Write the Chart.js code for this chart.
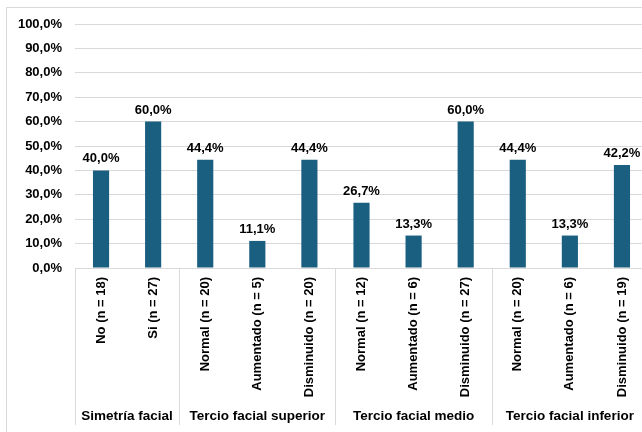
<!DOCTYPE html>
<html>
<head>
<meta charset="utf-8">
<script src="https://cdn.jsdelivr.net/npm/chart.js@4/dist/chart.umd.min.js"></script>
<style>
html,body{margin:0;padding:0;overflow:hidden;background:#fff;width:642px;height:432px;}
#frame{position:absolute;left:6px;top:7px;width:700px;height:440px;border-top:1px solid #d9d9d9;border-left:1px solid #d9d9d9;}
#c{position:absolute;left:0;top:0;}
</style>
</head>
<body>
<div id="frame"></div>
<canvas id="c" width="700" height="432"></canvas>
<script>
const categories = ["No (n = 18)","Si (n = 27)","Normal (n = 20)","Aumentado (n = 5)","Disminuido (n = 20)","Normal (n = 12)","Aumentado (n = 6)","Disminuido (n = 27)","Normal (n = 20)","Aumentado (n = 6)","Disminuido (n = 19)"];
const values = [40.0, 60.0, 44.4, 11.1, 44.4, 26.7, 13.3, 60.0, 44.4, 13.3, 42.2];
const groups = ["Simetría facial","Tercio facial superior","Tercio facial medio","Tercio facial inferior"];
const groupSizes = [2, 3, 3, 3];
const yTicks = [0,10,20,30,40,50,60,70,80,90,100];

const FONT = "'Liberation Sans', Arial, sans-serif";
const fmt = v => v.toFixed(1).replace('.', ',') + '%';

const groupPlugin = {
  id: 'groups',
  afterDraw(chart) {
    const ctx = chart.ctx;
    const x = chart.scales.x;
    const area = chart.chartArea;
    const half = (x.getPixelForValue(1) - x.getPixelForValue(0)) / 2;
    ctx.save();
    ctx.strokeStyle = '#d9d9d9';
    ctx.lineWidth = 1;
    let idx = 0;
    const bounds = [x.getPixelForValue(0) - half];
    groupSizes.forEach(n => { idx += n; bounds.push(x.getPixelForValue(idx - 1) + half); });
    bounds.forEach(b => {
      const px = Math.round(b) + 0.5;
      ctx.beginPath(); ctx.moveTo(px, area.bottom); ctx.lineTo(px, 425); ctx.stroke();
    });
    ctx.fillStyle = '#000';
    ctx.font = "bold 13.5px " + FONT;
    ctx.textAlign = 'center'; ctx.textBaseline = 'middle';
    groups.forEach((g, i) => {
      ctx.fillText(g, (bounds[i] + bounds[i+1]) / 2, 416);
    });
    // data labels
    const meta = chart.getDatasetMeta(0);
    ctx.font = "bold 13px " + FONT;
    ctx.textBaseline = 'alphabetic';
    meta.data.forEach((bar, i) => {
      ctx.fillText(fmt(values[i]), bar.x, bar.y - 8);
    });
    ctx.restore();
  }
};

new Chart(document.getElementById('c'), {
  type: 'bar',
  data: {
    labels: categories,
    datasets: [{ data: values, backgroundColor: '#1A5E80', categoryPercentage: 1, barPercentage: 0.31 }]
  },
  options: {
    responsive: false,
    animation: false,
    devicePixelRatio: 1,
    layout: { padding: { top: 24, right: 52, left: 0, bottom: 0 } },
    plugins: { legend: { display: false }, tooltip: { enabled: false } },
    scales: {
      x: {
        grid: { display: false, drawTicks: false },
        border: { display: false },
        ticks: { color: '#000', font: { family: FONT, size: 13, weight: 'bold' }, maxRotation: 90, minRotation: 90, padding: 9, autoSkip: false },
        afterFit(s) { s.height = 164; }
      },
      y: {
        min: 0, max: 100,
        afterBuildTicks(s) { s.ticks = yTicks.map(v => ({ value: v })); },
        grid: { color: '#d9d9d9', drawTicks: false, lineWidth: 1 },
        border: { display: false },
        ticks: { color: '#000', font: { family: FONT, size: 13, weight: 'bold' }, padding: 13, callback: v => fmt(v) },
        afterFit(s) { s.width = 75; }
      }
    }
  },
  plugins: [groupPlugin]
});
</script>
</body>
</html>
